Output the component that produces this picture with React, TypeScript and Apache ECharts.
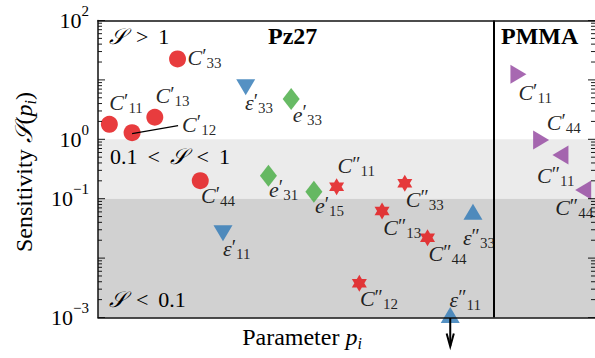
import { useEffect, useRef } from 'react';
import * as echarts from 'echarts';

const FONT = '"Liberation Serif", "DejaVu Serif", serif';
const SCRIPT_S = '𝒮';
const SP = '\u00a0';
const GAP = '\u00a0\u2009';

// ---- Pz27 parameters (in plotting order) ----
const pzBase = ['C', 'C', 'C', 'C', 'C', 'ε', 'ε', 'e', 'e', 'e', 'C', 'C', 'C', 'C', 'C', 'ε', 'ε'];
const pzPrimes = [1, 1, 1, 1, 1, 1, 1, 1, 1, 1, 2, 2, 2, 2, 2, 2, 2];
const pzSubs = ['11', '12', '13', '33', '44', '11', '33', '31', '33', '15', '11', '12', '13', '33', '44', '11', '33'];
const pzValues = [1.79, 1.29, 2.35, 22.5, 0.201, 0.0262, 7.5, 0.244, 4.77, 0.131, 0.159, 0.00377, 0.0621, 0.182, 0.022, 0.0011, 0.0604];
const pzKinds = ['circle', 'circle', 'circle', 'circle', 'circle', 'down', 'down', 'diamond', 'diamond', 'diamond', 'star', 'star', 'star', 'star', 'star', 'up', 'up'];

// ---- PMMA parameters ----
const pmmaBase = ['C', 'C', 'C', 'C'];
const pmmaPrimes = [1, 1, 2, 2];
const pmmaSubs = ['11', '44', '11', '44'];
const pmmaValues = [12.4, 0.973, 0.544, 0.14];
const pmmaKinds = ['right', 'right', 'left', 'left'];
const pmmaSlots = [18.5, 19.5, 20.35, 21.35];

// ---- axes / regions ----
const xMax = 21.87;
const dividerSlot = 17.4;
const yMin = 0.001;
const yMax = 100;
const bandLight = [0.1, 1];
const bandDark = [0.001, 0.1];
const shownExponents = [2, 0, -1, -3];
const arrowIndex = 15; // ε''11 is below the axis minimum
const leaderIndex = 1; // C'12 has a leader line

// ---- label placement (style, not data) ----
const pzLabelOffsets = [[0, -21.7], [50, -8.4], [0.7, -21.4], [10, -1.4], [0.7, 15.2], [0, 15.3], [-0.7, 15.3], [0.6, 13.6], [1.7, 15.3], [1, 14.2], [1, -20.8], [0.6, 15.3], [1.3, 16.6], [1, 16], [1, 15.9], [-0.7, -15.7], [-10, 25.9]];
const pmmaLabelOffsets = [[0, 18.3], [5.6, -17.4], [-23.5, 20.9], [-28, 17.6]];

const STAR = 'path://M0,-100L28.87,-50L86.6,-50L57.7,0L86.6,50L28.87,50L0,100L-28.87,50L-86.6,50L-57.7,0L-86.6,-50L-28.87,-50Z';

const kindStyle: Record<string, any> = {
  circle: { symbol: 'circle', symbolSize: 17, symbolRotate: 0, color: '#e41a1c' },
  down: { symbol: 'triangle', symbolSize: [19, 16], symbolRotate: 180, color: '#377eb8' },
  up: { symbol: 'triangle', symbolSize: [19, 16], symbolRotate: 0, color: '#377eb8' },
  diamond: { symbol: 'diamond', symbolSize: [17, 22], symbolRotate: 0, color: '#4daf4a' },
  star: { symbol: STAR, symbolSize: [15, 17], symbolRotate: 0, color: '#e41a1c' },
  right: { symbol: 'triangle', symbolSize: [19, 16], symbolRotate: -90, color: '#984ea3' },
  left: { symbol: 'triangle', symbolSize: [19, 16], symbolRotate: 90, color: '#984ea3' },
};

const labelRich = {
  m: { fontFamily: FONT, fontStyle: 'italic', fontSize: 22, lineHeight: 28, verticalAlign: 'top', padding: [3, 0, 0, 0], color: '#000' },
  p: { fontFamily: FONT, fontSize: 20, lineHeight: 28, verticalAlign: 'top', padding: [2, 0, 0, 0], color: '#000' },
  s: { fontFamily: FONT, fontSize: 15, lineHeight: 28, verticalAlign: 'top', padding: [12, 0, 0, 0], color: '#000' },
};

function labelText(base: string, primes: number, sub: string) {
  return `{m|${base}}{p|${primes === 2 ? '″' : '′'}}{s|${sub}}`;
}

function makeItem(x: number, v: number, kind: string, base: string, primes: number, sub: string, off: number[]) {
  const k = kindStyle[kind];
  return {
    value: [x, v],
    symbol: k.symbol,
    symbolSize: k.symbolSize,
    symbolRotate: k.symbolRotate,
    itemStyle: { color: k.color, opacity: 0.85 },
    label: {
      show: true,
      position: 'inside',
      align: 'left',
      verticalAlign: 'middle',
      offset: off,
      formatter: labelText(base, primes, sub),
      rich: labelRich,
    },
  };
}

const pzX = pzValues.map((_, i) => i + 0.5);

function buildTicks() {
  const out: number[][] = [];
  for (let e = -3; e < 2; e++) {
    for (let m = 1; m < 10; m++) out.push([0, m * Math.pow(10, e), m === 1 ? 1 : 0]);
  }
  out.push([0, 100, 1]);
  return out;
}

const textRich = {
  n: { fontFamily: FONT, fontSize: 22, color: '#000' },
  i: { fontFamily: FONT, fontSize: 22, fontStyle: 'italic', color: '#000' },
};

const titleRich = {
  a: { fontFamily: FONT, fontSize: 24, lineHeight: 30, verticalAlign: 'top', padding: [3, 0, 0, 0], color: '#000' },
  b: { fontFamily: FONT, fontSize: 24, fontStyle: 'italic', lineHeight: 30, verticalAlign: 'top', padding: [3, 0, 0, 0], color: '#000' },
  c: { fontFamily: FONT, fontSize: 16, fontStyle: 'italic', lineHeight: 30, verticalAlign: 'top', padding: [13, 0, 0, 0], color: '#000' },
};

function staticGraphics() {
  const t = (x: number, y: number, text: string, extra: any = {}) => ({
    type: 'text',
    x,
    y,
    z: 50,
    style: {
      text,
      fontFamily: FONT,
      fontSize: 22,
      fill: '#000',
      align: 'left',
      verticalAlign: 'middle',
      textAlign: 'left',
      textVerticalAlign: 'middle',
      rich: textRich,
      ...extra,
    },
  });
  return [
    t(109, 36, `{i|${SCRIPT_S}}{n|${GAP}>${GAP}1}`),
    t(110, 156, `{n|0.1${GAP}<${GAP}}{i|${SCRIPT_S}}{n|${GAP}<${GAP}1}`),
    t(109, 299, `{i|${SCRIPT_S}}{n|${GAP}<${GAP}0.1}`),
    t(268, 36.2, 'Pz27', { fontWeight: 'bold', fontSize: 24 }),
    t(501, 36.2, 'PMMA', { fontWeight: 'bold', fontSize: 24 }),
    {
      type: 'text',
      x: 302,
      y: 337,
      z: 50,
      style: {
        text: `{a|Parameter${SP}}{b|p}{c|i}`,
        align: 'center',
        verticalAlign: 'middle',
        textAlign: 'center',
        textVerticalAlign: 'middle',
        rich: titleRich,
      },
    },
    {
      type: 'text',
      x: 24,
      y: 172,
      rotation: Math.PI / 2,
      z: 50,
      style: {
        text: `{a|Sensitivity${SP}}{b|${SCRIPT_S}}{a|(}{b|p}{c|i}{a|)}`,
        align: 'center',
        verticalAlign: 'middle',
        textAlign: 'center',
        textVerticalAlign: 'middle',
        rich: titleRich,
      },
    },
  ];
}

export default function App() {
  const ref = useRef<HTMLDivElement>(null);
  useEffect(() => {
    document.body.style.margin = '0';
    const chart = echarts.init(ref.current!, null, { renderer: 'svg' });

    const pointData = [
      ...pzValues.map((v, i) => makeItem(pzX[i], v, pzKinds[i], pzBase[i], pzPrimes[i], pzSubs[i], pzLabelOffsets[i])),
      ...pmmaValues.map((v, i) => makeItem(pmmaSlots[i], v, pmmaKinds[i], pmmaBase[i], pmmaPrimes[i], pmmaSubs[i], pmmaLabelOffsets[i])),
    ];

    const axisLineStyle = { color: '#111', width: 1.5 };

    const option: any = {
      animation: false,
      grid: { left: 98, top: 20.5, right: 0, bottom: 40.5 },
      xAxis: [
        { type: 'value', min: 0, max: xMax, position: 'bottom', z: 10, axisLine: { show: true, lineStyle: axisLineStyle, onZero: false }, axisTick: { show: false }, axisLabel: { show: false }, splitLine: { show: false } },
        { type: 'value', min: 0, max: xMax, position: 'top', z: 10, axisLine: { show: true, lineStyle: axisLineStyle, onZero: false }, axisTick: { show: false }, axisLabel: { show: false }, splitLine: { show: false } },
      ],
      yAxis: {
        type: 'log',
        logBase: 10,
        min: yMin,
        max: yMax,
        z: 10,
        axisLine: { show: true, lineStyle: axisLineStyle },
        axisTick: { show: false },
        splitLine: { show: false },
        axisLabel: {
          margin: 9,
          formatter: (v: number) => {
            const e = Math.round(Math.log10(v));
            if (!shownExponents.includes(e)) return '';
            return `{b|10}{e|${e < 0 ? '−' + -e : e}}`;
          },
          rich: {
            b: { fontFamily: FONT, fontSize: 22, lineHeight: 34, verticalAlign: 'top', padding: [6, 0, 0, 0], color: '#000' },
            e: { fontFamily: FONT, fontSize: 15, lineHeight: 34, verticalAlign: 'top', padding: [0, 0, 0, 0], color: '#000' },
          },
        },
      },
      graphic: staticGraphics(),
      series: [
        {
          type: 'line',
          data: [],
          z: 1,
          silent: true,
          markArea: {
            silent: true,
            data: [
              [{ yAxis: bandLight[0], itemStyle: { color: '#ebebeb' } }, { yAxis: bandLight[1] }],
              [{ yAxis: bandDark[0], itemStyle: { color: '#d1d1d1' } }, { yAxis: bandDark[1] }],
            ],
          },
        },
        {
          type: 'line',
          data: [],
          z: 2,
          silent: true,
          markLine: {
            silent: true,
            symbol: ['none', 'none'],
            label: { show: false },
            lineStyle: { color: '#000', width: 2, type: 'solid' },
            data: [{ xAxis: dividerSlot }],
          },
        },
        {
          type: 'custom',
          z: 9,
          silent: true,
          clip: false,
          encode: { x: 0, y: 1 },
          data: buildTicks(),
          renderItem: (params: any, api: any) => {
            const v = api.value(1);
            const major = api.value(2) === 1;
            const pt = api.coord([0, v]);
            const cs = params.coordSys;
            const len = major ? 7 : 4;
            const st = { stroke: '#000', lineWidth: 0.9 };
            return {
              type: 'group',
              children: [
                { type: 'line', shape: { x1: cs.x, y1: pt[1], x2: cs.x + len, y2: pt[1] }, style: st },
                { type: 'line', shape: { x1: cs.x + cs.width, y1: pt[1], x2: cs.x + cs.width - len, y2: pt[1] }, style: st },
              ],
            };
          },
        },
        {
          type: 'scatter',
          z: 5,
          clip: false,
          data: pointData,
        },
      ],
    };

    chart.setOption(option);

    const [ax, ay] = chart.convertToPixel({ gridIndex: 0 }, [pzX[arrowIndex], pzValues[arrowIndex]]) as number[];
    const [lx, ly] = chart.convertToPixel({ gridIndex: 0 }, [pzX[leaderIndex], pzValues[leaderIndex]]) as number[];
    const extras = [
      { type: 'line', z: 60, shape: { x1: ax, y1: ay + 3, x2: ax, y2: ay + 31 }, style: { stroke: '#000', lineWidth: 2 } },
      { type: 'polyline', z: 60, shape: { points: [[ax - 3.6, ay + 18.5], [ax, ay + 31.5], [ax + 3.6, ay + 18.5]] }, style: { stroke: '#000', lineWidth: 2, fill: 'none' } },
      { type: 'line', z: 60, shape: { x1: lx, y1: ly + 1, x2: lx + 46, y2: ly - 7 }, style: { stroke: '#000', lineWidth: 1.3 } },
    ];
    chart.setOption({ graphic: [...staticGraphics(), ...extras] });

    return () => chart.dispose();
  }, []);
  return <div ref={ref} style={{ width: 595, height: 358 }} />;
}
